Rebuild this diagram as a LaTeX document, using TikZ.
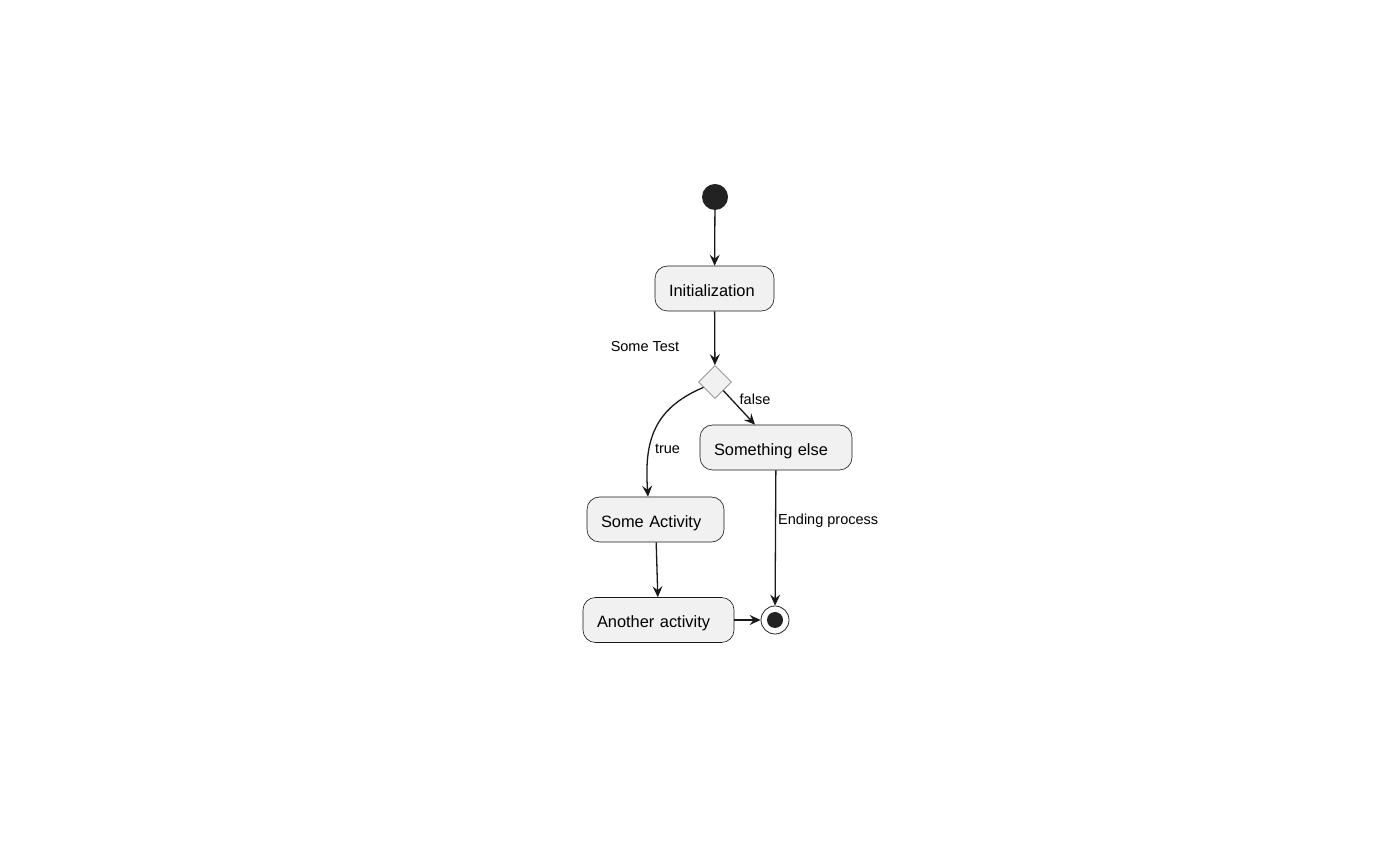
\documentclass[tikz,border=0pt]{standalone}
\usepackage{fontspec}
\setmainfont{Liberation Sans}
\usetikzlibrary{arrows.meta,shapes.geometric}
\definecolor{umlfill}{HTML}{F1F1F1}
\definecolor{umlborder}{HTML}{181818}
\definecolor{umldot}{HTML}{222222}
\definecolor{umlgray}{HTML}{888888}
\tikzset{
  activity/.style={draw=umlborder, fill=umlfill, line width=0.6pt, rounded corners=12.5pt,
    minimum height=45pt, inner xsep=14pt, align=left, text height=19pt, text depth=3pt,
    font=\fontsize{16.4}{20}\selectfont},
  choice/.style={diamond, draw=umlgray, fill=umlfill, line width=0.8pt, minimum size=33pt, inner sep=0pt},
  startdot/.style={circle, fill=umldot, minimum size=26pt, inner sep=0pt},
  enddot/.style={circle, draw=umldot, fill=white, line width=0.8pt, minimum size=28pt, inner sep=0pt,
    path picture={\fill[umldot] (path picture bounding box.center) circle (8pt);}},
  lbl/.style={inner sep=1pt, font=\fontsize{14.5}{17}\selectfont},
  flow/.style={draw=umlborder, line width=1.3pt, -{Stealth[length=11pt,width=10pt,inset=4pt]}}
}
\begin{document}
\begin{tikzpicture}[x=1pt,y=1pt]
    \useasboundingbox (0,0) rectangle (1400,865);
    % nodes
    \node[startdot] (start) at (715,668) {};
    \node[activity, text width=91pt] (init) at (714.5,576.5) {Initialization};
    \node[choice] (test) at (715,483) {};
    \node[lbl] (testlbl) at (645,518) {Some Test};
    \node[activity, text width=124pt] (else) at (776,417.5) {Something else};
    \node[activity, text width=109pt] (act) at (655.5,345.5) {Some Activity};
    \node[activity, text width=123pt] (another) at (658.5,245) {Another activity};
    \node[enddot] (end) at (775,245) {};
    % edges
    \draw[flow] (start) -- (init);
    \draw[flow] (init) -- (test);
    \draw[flow] (test.-46) -- ([xshift=-21pt]else.north);
    \node[lbl] (falselbl) at (755,466) {false};
    \draw[flow] (test.205) to[out=203, in=94, looseness=1.15] ([xshift=-7.5pt]act.north);
    \node[lbl] (truelbl) at (667.5,416) {true};
    \draw[flow] (act) -- (another);
    \draw[flow] (another) -- (end);
    \draw[flow] (else) -- (end);
    \node[lbl, anchor=west] (endlbl) at (777,344) {Ending process};
\end{tikzpicture}
\end{document}
